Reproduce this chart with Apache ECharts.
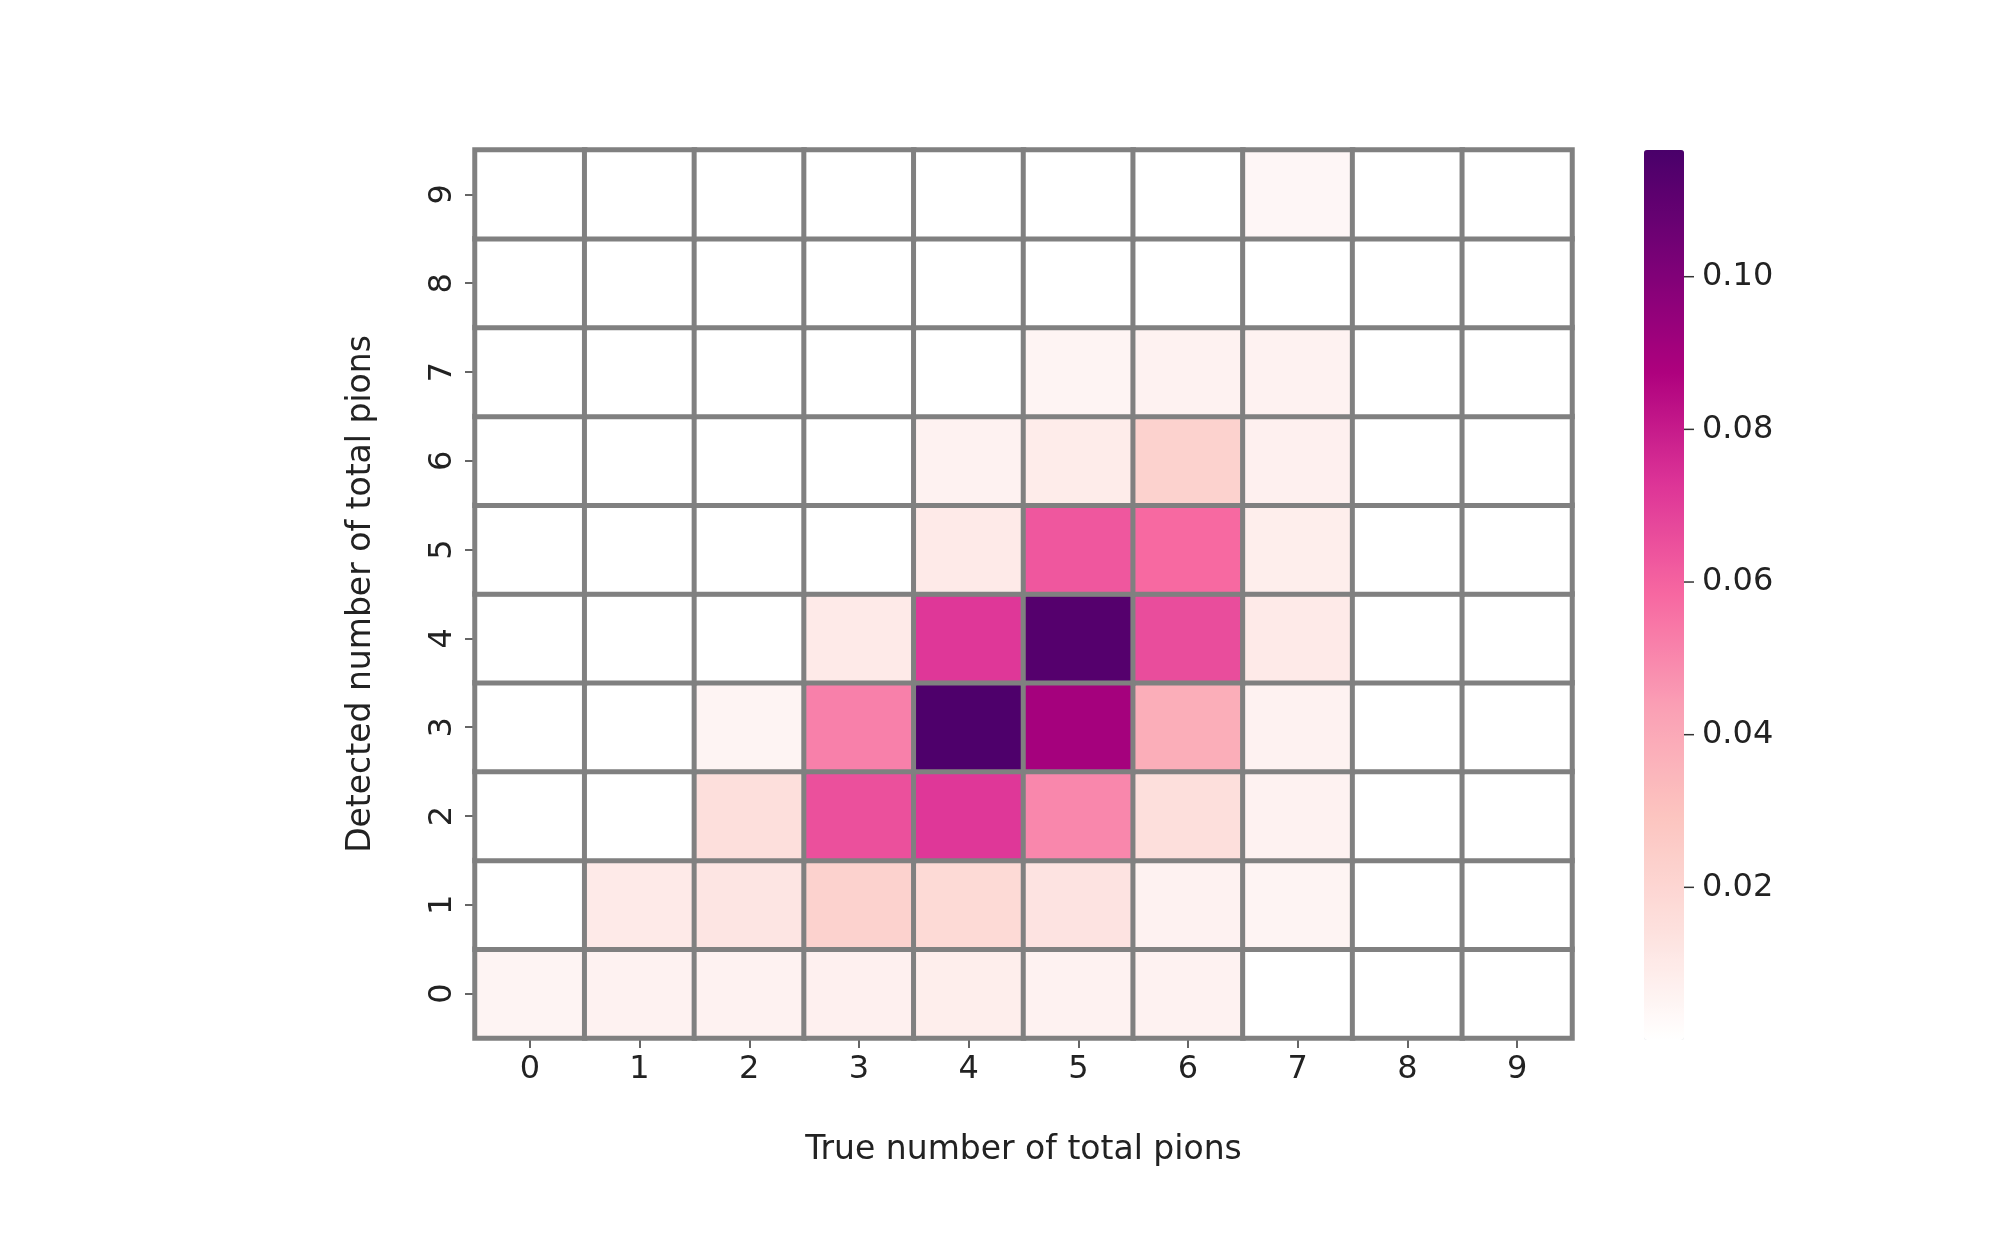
<!DOCTYPE html>
<html><head><meta charset="utf-8">
<script src="https://cdn.jsdelivr.net/npm/echarts@6/dist/echarts.min.js"></script>
<style>html,body{margin:0;background:#fff}#c{width:1992px;height:1233px}</style>
</head><body><div id="c"></div>
<script>
const xCats = ['0','1','2','3','4','5','6','7','8','9'];
const yCats = ['0','1','2','3','4','5','6','7','8','9'];
// rows indexed by detected (y), columns by true (x)
const row0 = [0.005,0.006,0.006,0.007,0.008,0.006,0.006,0,0,0];
const row1 = [0,0.010,0.012,0.022,0.018,0.013,0.006,0.005,0,0];
const row2 = [0,0,0.015,0.065,0.072,0.050,0.015,0.006,0,0];
const row3 = [0,0,0.005,0.052,0.115,0.090,0.038,0.006,0,0];
const row4 = [0,0,0,0.010,0.072,0.113,0.066,0.010,0,0];
const row5 = [0,0,0,0,0.010,0.063,0.058,0.008,0,0];
const row6 = [0,0,0,0,0.006,0.009,0.022,0.007,0,0];
const row7 = [0,0,0,0,0,0.005,0.006,0.006,0,0];
const row8 = [0,0,0,0,0,0,0,0,0,0];
const row9 = [0,0,0,0,0,0,0,0.004,0,0];
const rows = [row0,row1,row2,row3,row4,row5,row6,row7,row8,row9];
const data = [];
rows.forEach((r,y)=>r.forEach((v,x)=>data.push([x,y,v])));
const ch = echarts.init(document.getElementById('c'));
const font = 'DejaVu Sans';
ch.setOption({
  animation:false,
  grid:{left:475,right:420,top:150,bottom:195},
  xAxis:{type:'category',data:xCats,name:'True number of total pions',nameLocation:'middle',nameGap:96,
    nameTextStyle:{fontFamily:font,fontSize:33,color:'#222'},
    axisLine:{show:false},axisTick:{show:true,alignWithLabel:true,length:10,lineStyle:{color:'#333',width:1.5}},
    axisLabel:{fontFamily:font,fontSize:32,color:'#222',margin:16},splitLine:{show:false}},
  yAxis:{type:'category',data:yCats,name:'Detected number of total pions',nameLocation:'middle',nameGap:97,
    nameTextStyle:{fontFamily:font,fontSize:33,color:'#222'},
    axisLine:{show:false},axisTick:{show:true,alignWithLabel:true,length:10,lineStyle:{color:'#333',width:1.5}},
    axisLabel:{fontFamily:font,fontSize:32,color:'#222',rotate:90,margin:16},splitLine:{show:false}},
  visualMap:{type:'continuous',min:0,max:0.1166,calculable:false,orient:'vertical',
    left:1629,top:135,itemWidth:40,itemHeight:890,text:null,showLabel:false,
    inRange:{color:['#ffffff','#fde0dd','#fcc5c0','#fa9fb5','#f768a1','#dd3497','#ae017e','#7a0177','#49006a']}},
  graphic:[0.02,0.04,0.06,0.08,0.10].map(v=>{
    const y = 150 + 890*(1 - v/0.1166);
    return {type:'group',children:[
      {type:'line',shape:{x1:1684,y1:y,x2:1694,y2:y},style:{stroke:'#333',lineWidth:1.5}},
      {type:'text',x:1702,y:y,style:{text:v.toFixed(2),font:'32px DejaVu Sans',fill:'#222',textVerticalAlign:'middle'}}
    ]};
  }),
  series:[{type:'heatmap',data:data,itemStyle:{borderColor:'#808080',borderWidth:5},emphasis:{disabled:true}}]
});
</script></body></html>
